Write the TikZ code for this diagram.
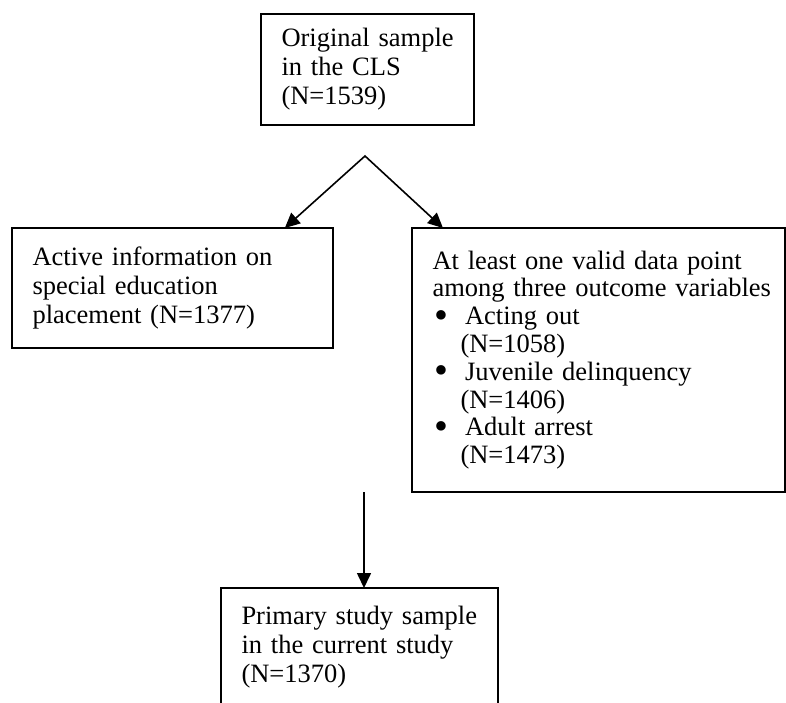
\documentclass[tikz,border=0pt]{standalone}
\usepackage{fontspec}
\setmainfont{Liberation Serif}
\usetikzlibrary{arrows.meta,calc}

\hyphenpenalty=10000
\exhyphenpenalty=10000

\newcommand{\outcomeitem}[2]{\makebox[32.5pt][l]{\hspace{1.5pt}\raisebox{-0.14em}{\scalebox{1.5}{\textbullet}}}#1\\\hspace*{28pt}#2}

\begin{document}
\begin{tikzpicture}[
    x=1pt, y=-1pt,
    >={Triangle[width=14pt,length=15pt]},
    stage/.style={
        rectangle, draw, line width=1.8pt, outer sep=0pt,
        anchor=north west, align=left,
        inner xsep=20.5pt, inner ysep=0pt,
        font=\fontsize{26.5}{29}\selectfont
    },
    flow/.style={line width=1.6pt}
]

%% Page frame
\useasboundingbox (0,0) rectangle (786,702);

%% Stage boxes
\node[stage, minimum width=213pt, minimum height=111pt, text width=172pt]
    (orig) at (261,14) {Original~sample\\
                        in the CLS\\
                        (N=1539)};

\node[stage, minimum width=321pt, minimum height=120pt, text width=280pt]
    (active) at (12,228) {Active information on\\
                          special education\\
                          placement (N=1377)};

\node[stage, minimum width=373pt, minimum height=264pt, text width=332pt,
      font=\fontsize{26.5}{27.8}\selectfont]
    (valid) at (412,228) {At least one valid data point\\
                          among~three~outcome~variables\\
                          \outcomeitem{Acting out}{(N=1058)}\\
                          \outcomeitem{Juvenile delinquency}{(N=1406)}\\
                          \outcomeitem{Adult arrest}{(N=1473)}};

\node[stage, minimum width=277pt, minimum height=118pt, text width=236pt]
    (final) at (221,588) {Primary study sample\\
                          in the current study\\
                          (N=1370)};

%% Connectors
\coordinate (split) at (365,156);
\coordinate (merge) at (364,492);

\draw[flow, <->] ($(active.north west)!0.85!(active.north east)$)
    -- (split) -- ($(valid.north west)!0.083!(valid.north east)$);
\draw[flow, ->] (merge) -- (merge |- final.north);

\end{tikzpicture}
\end{document}
